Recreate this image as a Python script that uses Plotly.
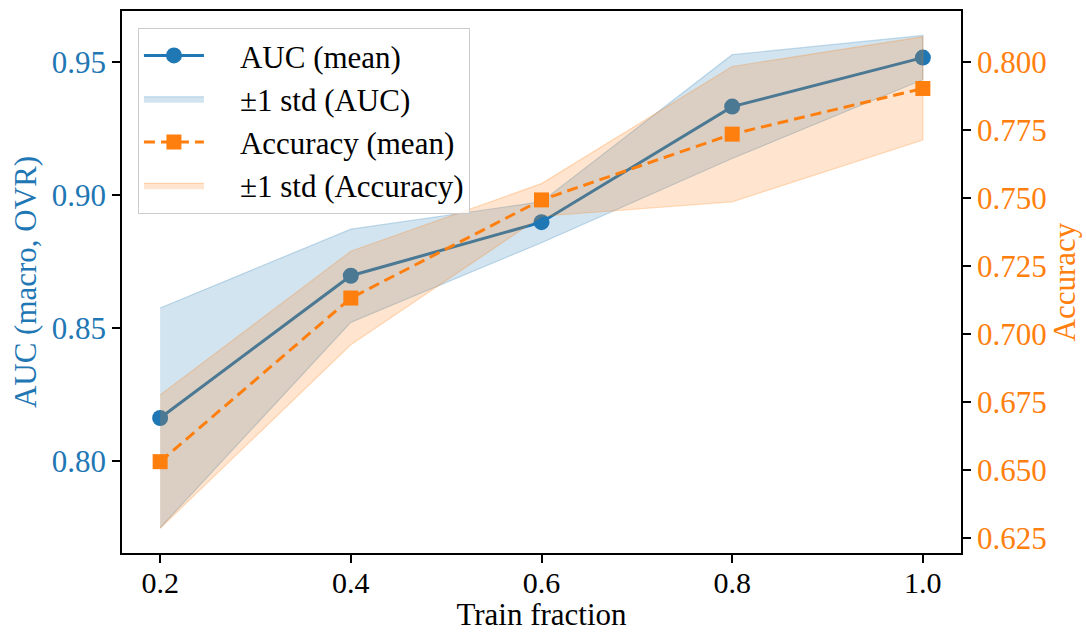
import plotly.graph_objects as go

train_fraction = [0.2, 0.4, 0.6, 0.8, 1.0]
auc_mean = [0.8163, 0.8697, 0.8898, 0.9332, 0.9516]
auc_std = [0.0413, 0.0175, 0.0077, 0.0195, 0.0083]
acc_mean = [0.6530, 0.7132, 0.7493, 0.7735, 0.7903]
acc_std = [0.0245, 0.0172, 0.0060, 0.0249, 0.0190]

x_ticks = [0.2, 0.4, 0.6, 0.8, 1.0]
auc_ticks = [0.80, 0.85, 0.90, 0.95]
acc_ticks = [0.625, 0.650, 0.675, 0.700, 0.725, 0.750, 0.775, 0.800]

BLUE = "#1f77b4"
ORANGE = "#ff7f0e"
FONT = "'Times New Roman', 'Liberation Serif', serif"
PAD = "\u00a0\u00a0\u00a0\u00a0"

auc_up = [m + s for m, s in zip(auc_mean, auc_std)]
auc_lo = [m - s for m, s in zip(auc_mean, auc_std)]
acc_up = [m + s for m, s in zip(acc_mean, acc_std)]
acc_lo = [m - s for m, s in zip(acc_mean, acc_std)]

fig = go.Figure()

fig.add_trace(go.Scatter(
    x=train_fraction + train_fraction[::-1], y=auc_up + auc_lo[::-1],
    fill="toself", fillcolor="rgba(31,119,180,0.2)",
    line=dict(color="rgba(31,119,180,0.25)", width=1.2),
    mode="lines", name=PAD + "±1 std (AUC)", legendrank=2, hoverinfo="skip"))
fig.add_trace(go.Scatter(
    x=train_fraction, y=auc_mean, mode="lines+markers", name=PAD + "AUC (mean)",
    line=dict(color=BLUE, width=3), marker=dict(symbol="circle", size=16, color=BLUE),
    legendrank=1))
fig.add_trace(go.Scatter(
    x=train_fraction + train_fraction[::-1], y=acc_up + acc_lo[::-1],
    fill="toself", fillcolor="rgba(255,127,14,0.2)",
    line=dict(color="rgba(255,127,14,0.25)", width=1.2),
    mode="lines", name=PAD + "±1 std (Accuracy)", legendrank=4, yaxis="y2", hoverinfo="skip"))
fig.add_trace(go.Scatter(
    x=train_fraction, y=acc_mean, mode="lines+markers", name=PAD + "Accuracy (mean)",
    line=dict(color=ORANGE, width=3, dash="11px,6px"),
    marker=dict(symbol="square", size=15, color=ORANGE),
    legendrank=3, yaxis="y2"))

fig.update_layout(
    width=1086, height=632,
    margin=dict(l=122, r=125, t=11, b=79, autoexpand=False),
    paper_bgcolor="white", plot_bgcolor="white",
    font=dict(family=FONT, size=31, color="black"),
    showlegend=True,
    legend=dict(x=0.019, y=0.969, xanchor="left", yanchor="top",
                bgcolor="rgba(255,255,255,0.8)", bordercolor="#cccccc", borderwidth=1,
                font=dict(family=FONT, size=31, color="black"), itemwidth=60,
                traceorder="normal"),
    xaxis=dict(range=[0.16, 1.04], tickvals=x_ticks, tickformat=".1f",
               showline=True, linecolor="black", linewidth=1.5, mirror=True,
               ticks="outside", ticklen=8, tickwidth=1.5, tickcolor="black",
               ticklabelstandoff=-6, automargin=False,
               tickfont=dict(family=FONT, size=30, color="black"),
               showgrid=False, zeroline=False,
               title=dict(text="Train fraction", font=dict(family=FONT, size=31, color="black"),
                          standoff=4)),
    yaxis=dict(range=[0.7656, 0.9691], tickvals=auc_ticks, tickformat=".2f",
               showline=True, linecolor="black", linewidth=1.5, automargin=False,
               ticks="outside", ticklen=8, tickwidth=1.5, tickcolor="black",
               tickfont=dict(family=FONT, size=31, color=BLUE),
               showgrid=False, zeroline=False,
               title=dict(text="AUC (macro, OVR)", font=dict(family=FONT, color=BLUE, size=31),
                          standoff=6)),
    yaxis2=dict(range=[0.6194, 0.8188], tickvals=acc_ticks, tickformat=".3f",
                overlaying="y", side="right", automargin=False,
                showline=True, linecolor="black", linewidth=1.5,
                ticks="outside", ticklen=8, tickwidth=1.5, tickcolor="black",
                tickfont=dict(family=FONT, size=31, color=ORANGE),
                showgrid=False, zeroline=False,
                title=dict(text="Accuracy", font=dict(family=FONT, color=ORANGE, size=31),
                           standoff=6)),
)

fig.write_html("out.html")
